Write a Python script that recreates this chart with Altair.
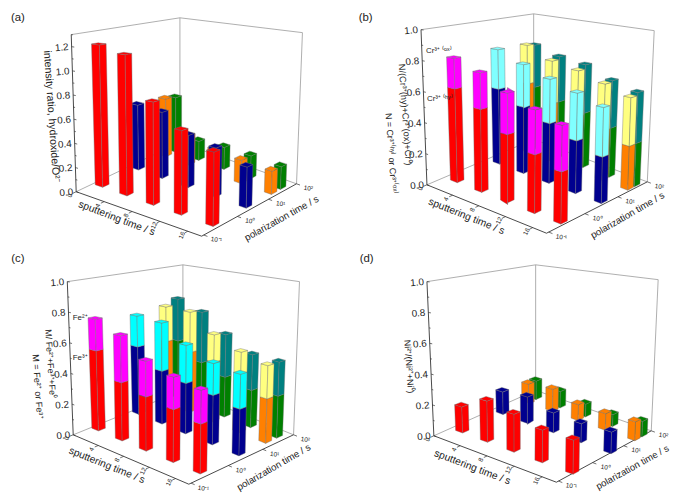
import altair as alt
import numpy as np
import pandas as pd

# ---------- values ----------
sputter_ticks = [0, 4, 8, 12, 16]
polar_labels = ["10⁻¹", "10⁰", "10¹", "10²"]

a_y = [[1.20, 1.15, 0.81, 0.64, 0.54],
       [0.59, 0.58, 0.44, 0.40, 0.32],
       [0.56, 0.27, 0.22, 0.20, 0.19],
       [0.54, 0.18, 0.20, 0.20, 0.19]]

b_low = [[0.61, 0.52, 0.41, 0.34, 0.29],
         [0.53, 0.45, 0.39, 0.33, 0.28],
         [0.51, 0.41, 0.37, 0.33, 0.28],
         [0.47, 0.41, 0.38, 0.33, 0.28]]
b_up = [[0.20, 0.23, 0.25, 0.26, 0.26],
        [0.28, 0.29, 0.29, 0.30, 0.30],
        [0.29, 0.31, 0.32, 0.31, 0.31],
        [0.32, 0.33, 0.34, 0.32, 0.33]]

c_low = [[0.53, 0.37, 0.33, 0.31, 0.28],
         [0.48, 0.36, 0.33, 0.31, 0.28],
         [0.46, 0.43, 0.41, 0.33, 0.28],
         [0.44, 0.33, 0.28, 0.25, 0.27]]
c_up = [[0.21, 0.30, 0.22, 0.19, 0.19],
        [0.22, 0.33, 0.25, 0.20, 0.21],
        [0.26, 0.29, 0.19, 0.20, 0.21],
        [0.32, 0.37, 0.30, 0.24, 0.22]]

d_y = [[0.17, 0.26, 0.23, 0.19, 0.19],
       [0.16, 0.18, 0.13, 0.12, 0.13],
       [0.14, 0.16, 0.11, 0.11, 0.12],
       [0.14, 0.12, 0.09, 0.08, 0.10]]

# ---------- layout of the four perspective boxes ----------
U_TICK = [t / 18 for t in sputter_ticks]
V_TICK = [0.02, 0.36, 0.69, 1.0]
HW = 0.03

LOW = ["#FF0000", "#00008F", "#FF8000", "#008000"]
UP_B = ["#FF00FF", "#80FFFF", "#FFFF80", "#008080"]
UP_C = ["#FF00FF", "#00FFFF", "#FFFF80", "#008080"]

PANELS = [
    dict(floor=[(77, 191), (204, 236), (300, 183), (182, 141)],
         top=[(72, 32), (206, 48), (306, 30), (182, 15)], zmax=1.3,
         ticks=[0, .2, .4, .6, .8, 1.0, 1.2], low=a_y, up=None, upc=None,
         ub=[.05, .246, .46, .685, .94], vb=[.18, .52, .79, .89]),
    dict(floor=[(432, 184), (553, 233), (655, 181), (540, 138)],
         top=[(426, 27), (555, 45), (662, 28), (540, 11)], zmax=1.0,
         ticks=[0, .2, .4, .6, .8, 1.0], low=b_low, up=b_up, upc=UP_B,
         ub=[.085, .295, .515, .74, .955], vb=[.18, .57, .84, .91]),
    dict(floor=[(74, 437), (191, 487), (297, 437), (185, 392)],
         top=[(68, 282), (193, 300), (303, 282), (185, 265)], zmax=1.0,
         ticks=[0, .2, .4, .6, .8, 1.0], low=c_low, up=c_up, upc=UP_C,
         ub=[.04, .25, .46, .695, .925], vb=[.18, .54, .80, .91]),
    dict(floor=[(439, 438), (563, 485), (659, 433), (542, 392)],
         top=[(432, 282), (565, 298), (666, 280), (542, 265)], zmax=1.0,
         ticks=[0, .2, .4, .6, .8, 1.0], low=d_y, up=None, upc=None,
         ub=[.075, .285, .505, .735, .98], vb=[.18, .57, .83, .91]),
]

TEXTS = [
    ("(a)", 18, 15, 0, 11.5), ("(b)", 370, 15, 0, 11.5), ("(c)", 18, 259, 0, 11.5), ("(d)", 371, 259, 0, 11.5),
    ("intensity ratio, hydroxide/O²⁻", 52, 115, 86, 10.7),
    ("sputtering time / s", 118, 218, 21, 10.4), ("polarization time / s", 285, 218, 331, 9.8),
    ("N/(Cr³⁺(hy)+Cr³⁺(ox)+Cr⁰)", 410, 113, 86, 9.3),
    ("N = Cr³⁺⁽ʰʸ⁾ or Cr³⁺⁽ᵒˣ⁾", 396, 152, 86, 9),
    ("Cr³⁺ ⁽ᵒˣ⁾", 444, 49, 0, 8), ("Cr³⁺ ⁽ʰʸ⁾", 445, 97, 0, 8),
    ("sputtering time / s", 472, 216, 22, 10.4), ("polarization time / s", 635, 215, 330, 9.8),
    ("M/ Fe²⁺+Fe³⁺+Fe⁰", 51, 365, 86, 9), ("M = Fe²⁺ or Fe³⁺", 38, 388, 86, 9.2),
    ("Fe²⁺", 81, 319, 0, 8), ("Fe³⁺", 81, 359, 0, 8),
    ("sputtering time / s", 108, 468, 22, 10.4), ("polarization time / s", 277, 470, 330, 9.8),
    ("Ni²⁺/(Ni²⁺+Ni⁰)", 414, 368, 86, 9),
    ("sputtering time / s", 478, 470, 21, 10.4), ("polarization time / s", 640, 470, 331, 9.6),
]


def homography(quad):
    src = [(0, 0), (1, 0), (1, 1), (0, 1)]
    A, b = [], []
    for (u, v), (x, y) in zip(src, quad):
        A.append([u, v, 1, 0, 0, 0, -u * x, -v * x]); b.append(x)
        A.append([0, 0, 0, u, v, 1, -u * y, -v * y]); b.append(y)
    h = np.linalg.solve(np.array(A, float), np.array(b, float))
    return np.append(h, 1).reshape(3, 3)


def project(P, u, v, z):
    out = []
    for h in (P["hf"], P["ht"]):
        p = h @ np.array([u, v, 1.0])
        out.append(p[:2] / p[2])
    t = z / P["zmax"]
    return (1 - t) * out[0] + t * out[1]


def poly_rows(pts, face, fill):
    """Turn a convex polygon into x / y / y2 rows for an area mark."""
    pts = [tuple(map(float, p)) for p in pts]
    xs = sorted(set(round(p[0], 3) for p in pts))
    rows = []
    n = len(pts)
    for x in xs:
        ys = []
        for i in range(n):
            (x0, y0), (x1, y1) = pts[i], pts[(i + 1) % n]
            lo, hi = min(x0, x1), max(x0, x1)
            if lo - 0.002 <= x <= hi + 0.002:
                if abs(x1 - x0) < 1e-6:
                    ys += [y0, y1]
                else:
                    ys.append(y0 + (y1 - y0) * (x - x0) / (x1 - x0))
        rows.append(dict(face=face, fill=fill, x=x, y=max(ys), y2=min(ys)))
    return rows


faces, lines, labels = [], [], []
fid = 0
lid = 0


def add_line(p, q, color, width):
    global lid
    lines.append(dict(line=lid, color=color, w=width, x=float(p[0]), y=float(p[1])))
    lines.append(dict(line=lid, color=color, w=width, x=float(q[0]), y=float(q[1])))
    lid += 1


for P in PANELS:
    P["hf"], P["ht"] = homography(P["floor"]), homography(P["top"])
    L0, F0, R0, B0 = P["floor"]
    L1, F1, R1, B1 = P["top"]
    for p, q in [(L1, B1), (B1, R1), (R1, R0), (B1, B0), (L0, B0), (B0, R0)]:
        add_line(p, q, "#9A9A9A", 0.8)
    for p, q in [(L0, L1), (L0, F0), (F0, R0)]:
        add_line(p, q, "#333333", 0.9)
    for i in range(int(round(P["zmax"] * 10)) + 1):
        z = i / 10
        major = i % 2 == 0
        a = project(P, 0, 0, z)
        b = project(P, 0.02 if major else 0.012, 0, z)
        add_line(a, b, "#333333", 0.7)
    for z in P["ticks"]:
        a = project(P, 0, 0, z)
        labels.append(dict(text=f"{z:.1f}", x=float(a[0]) - 10, y=float(a[1]) + 1, angle=355, size=10))
    for t, u in zip(sputter_ticks, U_TICK):
        a = project(P, u, 0, 0)
        b = project(P, u, -0.03, 0)
        add_line(a, b, "#333333", 0.7)
        c = project(P, u, -0.055, 0)
        labels.append(dict(text=str(t), x=float(c[0]), y=float(c[1]) + 1, angle=295, size=6.5))
    for t, v in zip(polar_labels, V_TICK):
        a = project(P, 1, v, 0)
        b = project(P, 1.03, v, 0)
        add_line(a, b, "#333333", 0.7)
        c = project(P, 1.085, v, 0)
        labels.append(dict(text=t, x=float(c[0]) + 2, y=float(c[1]) + 1, angle=8, size=6.5))
    for j in (3, 2, 1, 0):
        for i in range(5):
            u0, u1 = P["ub"][i] - HW, P["ub"][i] + HW
            v0, v1 = P["vb"][j] - HW, P["vb"][j] + HW
            segs = [(0.0, P["low"][j][i], LOW[j])]
            if P["up"] is not None:
                segs.append((P["low"][j][i], P["low"][j][i] + P["up"][j][i], P["upc"][j]))
            for z0, z1, col in segs:
                front = [project(P, u0, v0, z0), project(P, u1, v0, z0),
                         project(P, u1, v0, z1), project(P, u0, v0, z1)]
                side = [project(P, u1, v0, z0), project(P, u1, v1, z0),
                        project(P, u1, v1, z1), project(P, u1, v0, z1)]
                faces += poly_rows(front, fid, col); fid += 1
                faces += poly_rows(side, fid, col); fid += 1
            z1, col = segs[-1][1], segs[-1][2]
            top = [project(P, u0, v0, z1), project(P, u1, v0, z1),
                   project(P, u1, v1, z1), project(P, u0, v1, z1)]
            faces += poly_rows(top, fid, col); fid += 1

for t, x, y, ang, s in TEXTS:
    labels.append(dict(text=t, x=x, y=y, angle=ang, size=s))

X = alt.X("x:Q", scale=alt.Scale(domain=[8, 680], nice=False, zero=False), axis=None)
Y = alt.Y("y:Q", scale=alt.Scale(domain=[494, 8], nice=False, zero=False), axis=None)

box = alt.Chart(pd.DataFrame(lines)).mark_line().encode(
    x=X, y=Y, detail="line:N",
    color=alt.Color("color:N", scale=None),
    strokeWidth=alt.StrokeWidth("w:Q", scale=None),
)
bars = alt.Chart(pd.DataFrame(faces)).mark_area(
    stroke="#707070", strokeWidth=0.4, opacity=1, interpolate="linear"
).encode(
    x=X, y=Y, y2="y2:Q",
    detail="face:Q",
    fill=alt.Fill("fill:N", scale=None),
)
text = alt.Chart(pd.DataFrame(labels)).mark_text(
    font="Liberation Sans", align="center", baseline="middle", color="#222222"
).encode(
    x=X, y=Y, text="text:N",
    angle=alt.Angle("angle:Q", scale=None),
    size=alt.Size("size:Q", scale=None),
)

chart = (box + bars + text).properties(
    width=672, height=486, padding=0, autosize=alt.AutoSizeParams(type="none")
).configure_view(stroke=None)

chart.save("out.html", embed_options={"renderer": "svg", "actions": False})
